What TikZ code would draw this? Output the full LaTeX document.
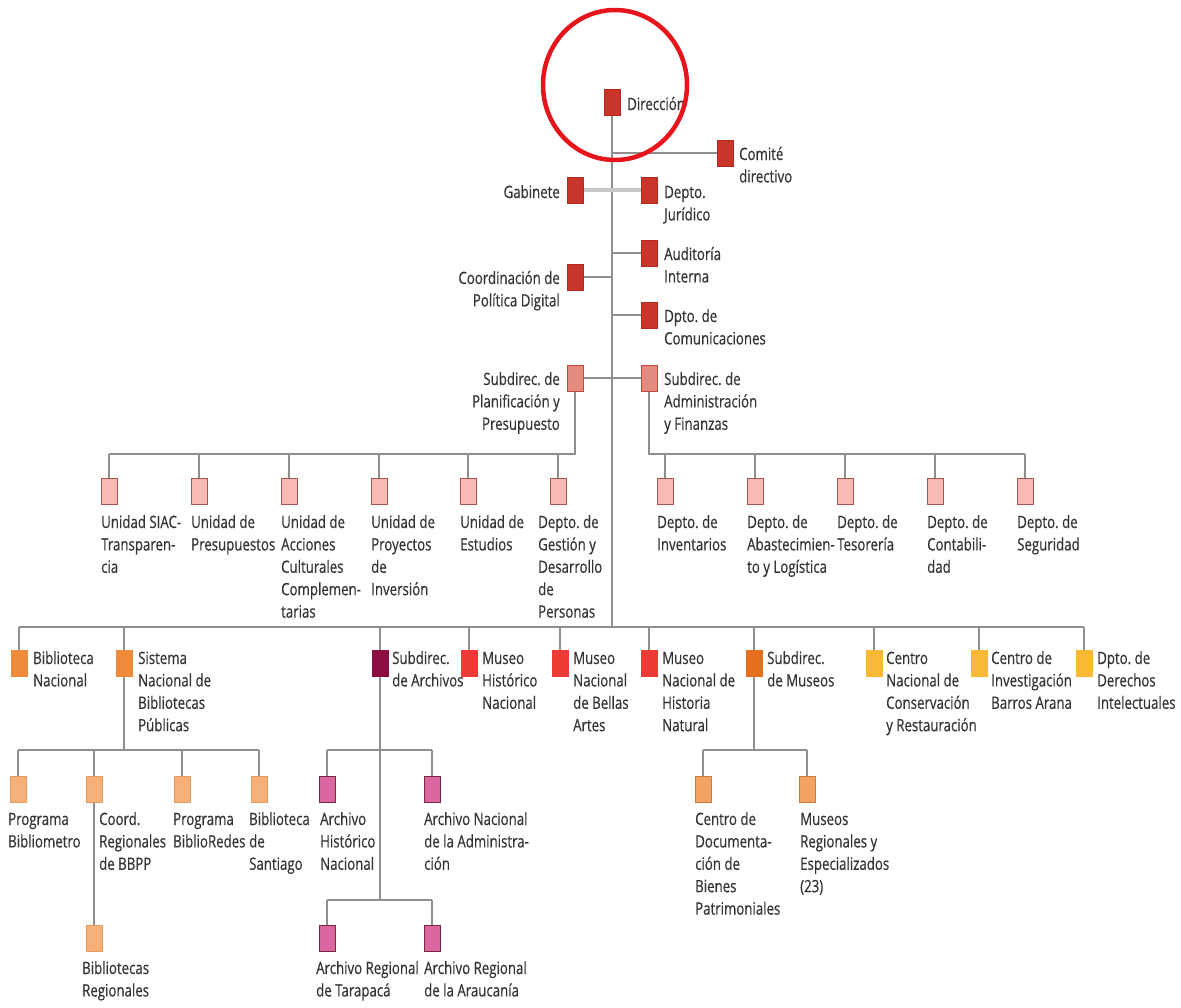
\documentclass[tikz,border=0pt]{standalone}
\usepackage{fontspec}
\usetikzlibrary{shapes.geometric}
\setmainfont{Open Sans}[FakeStretch=0.78, FakeBold=0.4]
\newcommand\labfont{\fontsize{17}{22.4}\selectfont\frenchspacing}
\newcommand\LL[1]{\begin{tabular}[t]{@{}l@{}}#1\end{tabular}}
\newcommand\RR[1]{\begin{tabular}[t]{@{}r@{}}#1\end{tabular}}
\definecolor{txt}{HTML}{333333}
\definecolor{conncol}{HTML}{8F8F8F}
\definecolor{cDark}{HTML}{C8352B}
\definecolor{cDarkB}{HTML}{B02A22}
\definecolor{cSub}{HTML}{E58A7E}
\definecolor{cSubB}{HTML}{C0493F}
\definecolor{cPink}{HTML}{F7BAB5}
\definecolor{cPinkB}{HTML}{A9544D}
\definecolor{cOr}{HTML}{EE8A3C}
\definecolor{cArc}{HTML}{8C0D3F}
\definecolor{cMus}{HTML}{EE3B36}
\definecolor{cSubMus}{HTML}{E4701E}
\definecolor{cYel}{HTML}{F8B934}
\definecolor{cLOr}{HTML}{F6B07A}
\definecolor{cLOrB}{HTML}{E89A5E}
\definecolor{cArch}{HTML}{DA66A0}
\definecolor{cArchB}{HTML}{7D2545}
\definecolor{cMOr}{HTML}{F2A366}
\definecolor{cMOrB}{HTML}{D27A36}
\definecolor{ringred}{HTML}{E8141B}
\tikzset{
  sq/.style={rectangle, minimum width=16pt, minimum height=26pt, inner sep=0pt, line width=1pt},
  sqDark/.style={sq, fill=cDark, draw=cDarkB},
  sqSub/.style={sq, fill=cSub, draw=cSubB},
  sqPink/.style={sq, fill=cPink, draw=cPinkB},
  sqOr/.style={sq, fill=cOr, draw=cOr},
  sqArc/.style={sq, fill=cArc, draw=cArc},
  sqMus/.style={sq, fill=cMus, draw=cMus},
  sqSubMus/.style={sq, fill=cSubMus, draw=cSubMus},
  sqYel/.style={sq, fill=cYel, draw=cYel},
  sqLOr/.style={sq, fill=cLOr, draw=cLOrB},
  sqArch/.style={sq, fill=cArch, draw=cArchB},
  sqMOr/.style={sq, fill=cMOr, draw=cMOrB},
  lblL/.style={anchor=base west, inner sep=0pt, font=\labfont, text=txt},
  lblR/.style={anchor=base east, inner sep=0pt, font=\labfont, text=txt},
  conn/.style={draw=conncol, line width=1.3pt},
  connL/.style={draw=black!22, line width=3.5pt},
}
\begin{document}
\begin{tikzpicture}[x=1pt, y=-1pt]
\useasboundingbox (0,0) rectangle (1181,1007);
\fill[white] (0,0) rectangle (1181,1007);

% ---------- top section ----------
\node[sqDark] (dir) at (612,102) {};
\node[lblL] (dirL) at (627,110) {\LL{Dirección}};
\node[sqDark] (comite) at (725,153) {};
\node[lblL] (comiteL) at (739,160) {\LL{Comité\\directivo}};
\node[sqDark] (gab) at (575,190) {};
\node[lblR] (gabL) at (560,198) {\RR{Gabinete}};
\node[sqDark] (jur) at (649,190) {};
\node[lblL] (jurL) at (664,198) {\LL{Depto.\\Jurídico}};
\node[sqDark] (aud) at (649,253) {};
\node[lblL] (audL) at (664,260) {\LL{Auditoría\\Interna}};
\node[sqDark] (coord) at (575,277) {};
\node[lblR] (coordL) at (560,284) {\RR{Coordinación de\\Política Digital}};
\node[sqDark] (com) at (649,315) {};
\node[lblL] (comL) at (664,322) {\LL{Dpto. de\\Comunicaciones}};
\node[sqSub] (planif) at (575,378) {};
\node[lblR] (planifL) at (560,385) {\RR{Subdirec. de\\Planificación y\\Presupuesto}};
\node[sqSub] (adm) at (649,378) {};
\node[lblL] (admL) at (664,385) {\LL{Subdirec. de\\Administración\\y Finanzas}};

\coordinate (tEnd) at (612,627);
\draw[conn] (dir.south) -- (tEnd);
\draw[conn] (dir.south |- comite.west) -- (comite.west);
\draw[connL] (gab.east) -- (jur.west);
\draw[conn] (dir.south |- aud.west) -- (aud.west);
\draw[conn] (coord.east) -- (coord.east -| dir.south);
\draw[conn] (dir.south |- com.west) -- (com.west);
\draw[conn] (planif.east) -- (adm.west);

% ---------- row 2 ----------
\foreach \n/\x in {u1/109,u2/199,u3/289,u4/379,u5/468,u6/558,a1/665,a2/755,a3/845,a4/935,a5/1025}
  \node[sqPink] (\n) at (\x,491) {};
\node[lblL] (u1L) at (101,528) {\LL{Unidad SIAC-\\Transparen-\\cia}};
\node[lblL] (u2L) at (191,528) {\LL{Unidad de\\Presupuestos}};
\node[lblL] (u3L) at (281,528) {\LL{Unidad de\\Acciones\\Culturales\\Complemen-\\tarias}};
\node[lblL] (u4L) at (371,528) {\LL{Unidad de\\Proyectos\\de\\Inversión}};
\node[lblL] (u5L) at (460,528) {\LL{Unidad de\\Estudios}};
\node[lblL] (u6L) at (538,528) {\LL{Depto. de\\Gestión y\\Desarrollo\\de\\Personas}};
\node[lblL] (a1L) at (657,528) {\LL{Depto. de\\Inventarios}};
\node[lblL] (a2L) at (747,528) {\LL{Depto. de\\Abastecimien-\\to y Logística}};
\node[lblL] (a3L) at (837,528) {\LL{Depto. de\\Tesorería}};
\node[lblL] (a4L) at (927,528) {\LL{Depto. de\\Contabili-\\dad}};
\node[lblL] (a5L) at (1017,528) {\LL{Depto. de\\Seguridad}};

\coordinate (hL) at (575,454);
\coordinate (hR) at (649,454);
\draw[conn] (planif.south) -- (hL) -- (hL -| u1.north);
\draw[conn] (adm.south) -- (hR) -- (hR -| a5.north);
\foreach \n in {u1,u2,u3,u4,u5,u6}
  \draw[conn] (\n.north |- hL) -- (\n.north);
\foreach \n in {a1,a2,a3,a4,a5}
  \draw[conn] (\n.north |- hR) -- (\n.north);

% ---------- row 3 ----------
\node[sqOr] (bn) at (19,663) {};
\node[lblL] (bnL) at (33,664) {\LL{Biblioteca\\Nacional}};
\node[sqOr] (sn) at (124,663) {};
\node[lblL] (snL) at (138,664) {\LL{Sistema\\Nacional de\\Bibliotecas\\Públicas}};
\node[sqArc] (sa) at (380,663) {};
\node[lblL] (saL) at (392,664) {\LL{Subdirec.\\de Archivos}};
\node[sqMus] (mhn) at (469,663) {};
\node[lblL] (mhnL) at (482,664) {\LL{Museo\\Histórico\\Nacional}};
\node[sqMus] (mnba) at (560,663) {};
\node[lblL] (mnbaL) at (573,664) {\LL{Museo\\Nacional\\de Bellas\\Artes}};
\node[sqMus] (mnhn) at (649,663) {};
\node[lblL] (mnhnL) at (662,664) {\LL{Museo\\Nacional de\\Historia\\Natural}};
\node[sqSubMus] (sm) at (754,663) {};
\node[lblL] (smL) at (767,664) {\LL{Subdirec.\\de Museos}};
\node[sqYel] (cncr) at (874,663) {};
\node[lblL] (cncrL) at (886,664) {\LL{Centro\\Nacional de\\Conservación\\y Restauración}};
\node[sqYel] (ciba) at (979,663) {};
\node[lblL] (cibaL) at (991,664) {\LL{Centro de\\Investigación\\Barros Arana}};
\node[sqYel] (ddi) at (1084,663) {};
\node[lblL] (ddiL) at (1097,664) {\LL{Dpto. de\\Derechos\\Intelectuales}};

\draw[conn] (bn.north |- tEnd) -- (ddi.north |- tEnd);
\foreach \n in {bn,sn,sa,mhn,mnba,mnhn,sm,cncr,ciba,ddi}
  \draw[conn] (\n.north |- tEnd) -- (\n.north);

% ---------- Sistema Nacional children ----------
\node[sqLOr] (pbm) at (18,789) {};
\node[lblL] (pbmL) at (8,825) {\LL{Programa\\Bibliometro}};
\node[sqLOr] (crb) at (94,789) {};
\node[lblL] (crbL) at (99,825) {\LL{Coord.\\Regionales\\de BBPP}};
\node[sqLOr] (pbr) at (182,789) {};
\node[lblL] (pbrL) at (173,825) {\LL{Programa\\BiblioRedes}};
\node[sqLOr] (bds) at (259,789) {};
\node[lblL] (bdsL) at (249,825) {\LL{Biblioteca\\de\\Santiago}};
\node[sqLOr] (breg) at (94,938) {};
\node[lblL] (bregL) at (82,974) {\LL{Bibliotecas\\Regionales}};

\coordinate (hS) at (124,750);
\draw[conn] (sn.south) -- (hS);
\draw[conn] (hS -| pbm.north) -- (hS -| bds.north);
\foreach \n in {pbm,crb,pbr,bds}
  \draw[conn] (\n.north |- hS) -- (\n.north);
\draw[conn] (crb.south) -- (breg.north);

% ---------- Archivos children ----------
\node[sqArch] (ahn) at (327,789) {};
\node[lblL] (ahnL) at (320,825) {\LL{Archivo\\Histórico\\Nacional}};
\node[sqArch] (ana) at (432,789) {};
\node[lblL] (anaL) at (424,825) {\LL{Archivo Nacional\\de la Administra-\\ción}};
\node[sqArch] (art) at (327,938) {};
\node[lblL] (artL) at (316,974) {\LL{Archivo Regional\\de Tarapacá}};
\node[sqArch] (ara) at (432,938) {};
\node[lblL] (araL) at (424,974) {\LL{Archivo Regional\\de la Araucanía}};

\coordinate (hA1) at (380,750);
\coordinate (hA2) at (380,900);
\draw[conn] (sa.south) -- (hA2);
\draw[conn] (hA1 -| ahn.north) -- (hA1 -| ana.north);
\draw[conn] (hA2 -| art.north) -- (hA2 -| ara.north);
\foreach \n in {ahn,ana}
  \draw[conn] (\n.north |- hA1) -- (\n.north);
\foreach \n in {art,ara}
  \draw[conn] (\n.north |- hA2) -- (\n.north);

% ---------- Museos children ----------
\node[sqMOr] (cdoc) at (703,789) {};
\node[lblL] (cdocL) at (695,825) {\LL{Centro de\\Documenta-\\ción de\\Bienes\\Patrimoniales}};
\node[sqMOr] (mreg) at (807,789) {};
\node[lblL] (mregL) at (800,825) {\LL{Museos\\Regionales y\\Especializados\\(23)}};

\coordinate (hM) at (754,750);
\draw[conn] (sm.south) -- (hM);
\draw[conn] (hM -| cdoc.north) -- (hM -| mreg.north);
\foreach \n in {cdoc,mreg}
  \draw[conn] (\n.north |- hM) -- (\n.north);

% ---------- red ring ----------
\node[draw=ringred, line width=4.5pt, ellipse, minimum width=144pt, minimum height=150pt, inner sep=0pt] (ring) at (615,85) {};
\end{tikzpicture}
\end{document}
